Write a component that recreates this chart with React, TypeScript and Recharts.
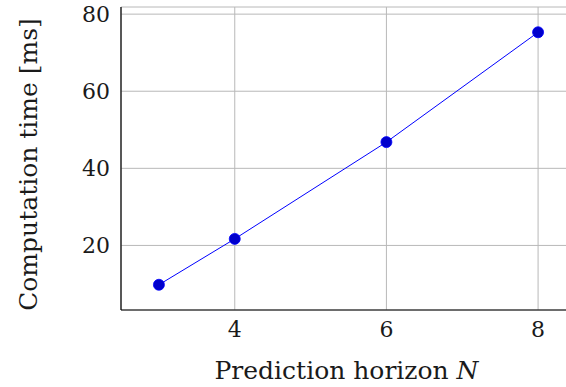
import { CartesianGrid, Label, Line, LineChart, XAxis, YAxis } from "recharts"

const horizons = [3, 4, 6, 8]
const timesMs = [9.8, 21.7, 46.8, 75.3]
const xTicks = [4, 6, 8]
const yTicks = [20, 40, 60, 80]

const data = horizons.map((n, i) => ({ n, time: timesMs[i] }))

const font = "'DejaVu Serif', 'Liberation Serif', serif"
const ink = "#1a1a1a"

function YTitle(props: any) {
  const { viewBox } = props
  const cx = 37
  const cy = viewBox.y + viewBox.height / 2 + 6
  return (
    <text
      x={cx}
      y={cy}
      transform={`rotate(-90 ${cx} ${cy})`}
      textAnchor="middle"
      fontFamily={font}
      fontSize={25}
      fill={ink}
    >
      Computation time [ms]
    </text>
  )
}

function XTitle(props: any) {
  const { viewBox } = props
  const cx = viewBox.x + viewBox.width / 2 - 2
  return (
    <text x={cx} y={379} textAnchor="middle" fontFamily={font} fontSize={25} fill={ink}>
      Prediction horizon <tspan fontStyle="italic">N</tspan>
    </text>
  )
}

export default function App() {
  return (
    <div
      style={{
        position: "absolute",
        left: 0,
        top: 0,
        width: 566,
        height: 387,
        overflow: "hidden",
        background: "#ffffff",
      }}
    >
      <LineChart width={600} height={387} data={data} margin={{ top: 7, right: 24, left: 0, bottom: 0 }}>
        <CartesianGrid stroke="#b8b8b8" strokeWidth={1} />
        <XAxis
          dataKey="n"
          type="number"
          domain={[2.5, 8.5]}
          ticks={xTicks}
          height={77}
          tickLine={false}
          tickSize={5}
          tickMargin={6}
          axisLine={{ stroke: "#000", strokeWidth: 1.2 }}
          tick={{ fill: ink, fontFamily: font, fontSize: 22 }}
        >
          <Label content={<XTitle />} />
        </XAxis>
        <XAxis
          xAxisId="top"
          orientation="top"
          dataKey="n"
          type="number"
          domain={[2.5, 8.5]}
          height={0}
          tick={false}
          tickLine={false}
          axisLine={{ stroke: "#000", strokeWidth: 1.2 }}
        />
        <YAxis
          type="number"
          domain={[3.25, 81.85]}
          ticks={yTicks}
          width={121}
          tickLine={false}
          tickSize={5}
          tickMargin={6}
          axisLine={{ stroke: "#000", strokeWidth: 1.2 }}
          tick={{ fill: ink, fontFamily: font, fontSize: 22 }}
        >
          <Label content={<YTitle />} />
        </YAxis>
        <Line
          dataKey="time"
          stroke="#0000ff"
          strokeWidth={1}
          dot={{ r: 5.5, fill: "#0000cc", stroke: "#0000ff", strokeWidth: 0.8 }}
          isAnimationActive={false}
        />
      </LineChart>
    </div>
  )
}
